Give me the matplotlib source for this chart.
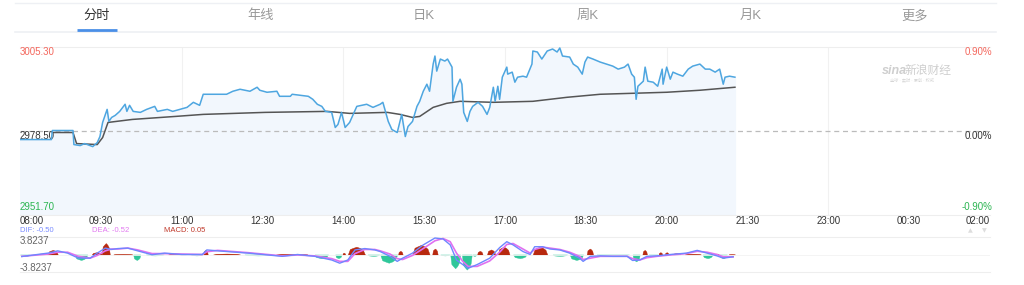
import matplotlib
matplotlib.use("Agg")
import matplotlib.pyplot as plt
import matplotlib.transforms as mtransforms

plt.rcParams['font.family'] = ['Liberation Sans', 'Noto Sans CJK SC', 'DejaVu Sans']

# ---- data ----
# tabs on top
tabs = ["分时", "年线", "日K", "周K", "月K", "更多"]

# time axis: minutes after 08:00
tick_labels = ["08:00", "09:30", "11:00", "12:30", "14:00", "15:30", "17:00",
               "18:30", "20:00", "21:30", "23:00", "00:30", "02:00"]
tick_minutes = [0, 90, 180, 270, 360, 450, 540, 630, 720, 810, 900, 990, 1080]

prev_close = 2978.50
y_top = 3005.30
y_bottom = 2951.70

# price line
price_t = [0, 35, 36, 59, 60, 67, 72, 81, 86, 89, 92, 97, 99, 102, 106, 111, 117, 119,
           122, 126, 134, 141, 150, 153, 164, 170, 186, 193, 200, 204, 230, 237, 245,
           256, 264, 267, 275, 286, 289, 301, 303, 321, 326, 331, 336, 340, 347, 351,
           354, 358, 362, 367, 371, 375, 386, 393, 401, 404, 410, 414, 420, 425, 429,
           432, 437, 442, 445, 449, 453, 456, 460, 462, 464, 468, 473, 476, 481, 482,
           486, 490, 492, 494, 498, 501, 504, 510, 515, 520, 523, 527, 529, 532, 534,
           537, 542, 543, 548, 551, 554, 560, 564, 570, 571, 576, 581, 587, 593, 598,
           601, 604, 612, 616, 621, 626, 629, 632, 638, 646, 653, 660, 666, 673, 677,
           681, 684, 686, 688, 694, 696, 699, 705, 710, 715, 716, 720, 724, 727, 732,
           738, 744, 749, 757, 763, 768, 774, 779, 783, 785, 790, 796]
price = [2975.77, 2975.77, 2978.66, 2978.66, 2974.17, 2973.85, 2974.49, 2973.52, 2974.81,
         2976.73, 2981.23, 2985.40, 2981.55, 2982.83, 2983.48, 2984.76, 2987.03, 2984.76,
         2986.69, 2984.76, 2984.44, 2985.40, 2986.36, 2984.76, 2985.40, 2984.76, 2986.04,
         2987.65, 2986.69, 2990.22, 2990.22, 2991.18, 2991.82, 2991.18, 2992.46, 2991.50,
         2990.86, 2991.18, 2989.57, 2989.57, 2990.22, 2989.57, 2988.61, 2987.03, 2986.36,
         2984.76, 2984.44, 2979.62, 2980.59, 2984.44, 2979.62, 2981.23, 2983.80, 2986.36,
         2987.03, 2986.04, 2987.03, 2987.65, 2981.55, 2978.98, 2978.02, 2983.80, 2976.73,
         2979.94, 2981.55, 2986.36, 2987.97, 2991.18, 2993.43, 2991.18, 2999.85, 3002.42,
         2997.60, 3001.45, 3000.81, 3001.45, 2998.88, 2987.97, 2992.46, 2995.03, 2993.43,
         2984.44, 2981.55, 2984.76, 2986.36, 2987.65, 2986.36, 2983.80, 2986.04, 2992.46,
         2987.97, 2992.78, 2988.61, 2995.67, 2998.88, 2996.64, 2997.28, 2994.07, 2995.67,
         2995.99, 2995.67, 2999.85, 3004.02, 3003.70, 3001.45, 3004.02, 3004.66, 3003.70,
         3004.98, 3002.42, 3002.09, 2999.85, 2998.88, 2996.64, 3000.49, 3002.09, 3001.45,
         3000.49, 2999.85, 2999.20, 2998.24, 2998.88, 2999.85, 2996.64, 2995.67, 2988.61,
         2992.78, 2994.39, 2998.88, 2994.39, 2994.07, 2992.78, 2998.24, 2993.43, 2998.88,
         2995.03, 2997.28, 2996.64, 2995.99, 2998.24, 2999.20, 2999.85, 2998.24, 2998.24,
         2997.28, 2998.24, 2993.43, 2995.67, 2995.99, 2995.67]

# average price line
avg_t = [36, 59, 63, 86, 92, 98, 125, 173, 204, 273, 342, 367, 409, 423, 437, 445, 460,
         475, 490, 527, 571, 609, 646, 682, 720, 757, 796]
avg_p = [2978.02, 2978.02, 2974.49, 2974.17, 2976.41, 2981.23, 2982.19, 2983.15, 2983.80,
         2984.44, 2984.76, 2984.12, 2984.44, 2983.80, 2982.83, 2983.15, 2986.04, 2987.33,
         2987.97, 2987.65, 2987.97, 2989.25, 2990.22, 2990.53, 2990.86, 2991.50, 2992.46]

# MACD
macd_lim = 3.8237
macd_t = [2, 31, 42, 53, 65, 78, 86, 95, 102, 109, 120, 131, 147, 161, 180, 203, 208, 220,
          254, 292, 309, 328, 347, 356, 365, 373, 384, 395, 401, 412, 420, 426, 437, 449,
          462, 471, 479, 486, 493, 499, 509, 523, 534, 542, 549, 560, 568, 573, 582, 590,
          601, 612, 623, 627, 635, 646, 660, 676, 682, 690, 698, 709, 724, 742, 754, 765,
          776, 783, 794]
dif = [-0.44, 0.3, 0.8, 0.3, -0.8, -0.8, 0.3, 1.4, 1.1, 1.3, 1.4, 0.8, -0.05, 0.3, 0.0, 0.0,
       1.0, 0.8, 0.3, -0.4, 0.0, -0.4, -1.2, -1.9, -1.2, 1.0, 1.3, 1.0, 0.65, -0.4, -1.5,
       -0.8, 0.3, 2.1, 3.6, 3.4, 2.1, -1.2, -2.2, -3.0, -2.2, -0.8, 1.5, 2.8, 2.1, 0.65, 0.0,
       1.7, 1.7, 1.2, 1.0, 0.3, -0.8, -1.5, -0.4, -0.3, -0.4, -0.4, -1.3, -1.2, -0.4, -0.3,
       0.0, 0.3, 0.9, 0.3, -0.3, -0.8, -0.5]
dea = [-0.4, 0.1, 0.5, 0.5, -0.4, -0.8, -0.2, 0.8, 1.2, 1.2, 1.4, 1.0, 0.2, 0.2, 0.1, 0.0,
       0.6, 0.9, 0.4, -0.3, -0.1, -0.3, -0.9, -1.5, -1.5, 0.2, 1.1, 1.1, 0.8, 0.1, -0.9,
       -1.1, -0.2, 1.3, 3.0, 3.5, 2.8, 0.3, -1.5, -2.6, -2.6, -1.4, 0.5, 2.2, 2.4, 1.2, 0.3,
       1.1, 1.6, 1.4, 1.1, 0.5, -0.4, -1.1, -0.8, -0.4, -0.4, -0.4, -0.9, -1.2, -0.7, -0.4,
       -0.1, 0.2, 0.7, 0.5, 0.0, -0.5, -0.52]
# histogram humps: start minute, end minute, peak value
hist_start = [0, 17, 31, 61, 80, 91, 104, 126, 140, 165, 190, 204, 215, 250, 285, 328, 351,
              359, 365, 387, 401, 421, 437, 459, 468, 479, 492, 504, 509, 520, 532, 549,
              571, 593, 612, 631, 642, 682, 693, 700, 711, 718, 727, 740, 760, 773, 779, 789]
hist_end = [10, 31, 42, 75, 91, 100, 125, 134, 160, 185, 203, 209, 245, 280, 320, 343, 358,
            362, 384, 400, 420, 426, 456, 465, 478, 490, 503, 508, 515, 529, 545, 564,
            587, 609, 627, 638, 678, 690, 698, 710, 715, 722, 735, 758, 771, 778, 787, 796]
hist_val = [-0.4, 0.2, 1.0, -1.2, 0.5, 2.5, 0.1, -1.2, -0.2, 0.2, -0.2, 1.0, 0.2, -0.2, 0.15,
            -0.8, -0.8, 0.4, 1.7, -0.3, -1.8, 0.8, 2.1, 1.3, -0.2, -3.0, -3.3, -0.3, 0.8, 1.1,
            1.7, -0.8, 1.7, -0.3, -1.2, 1.3, -0.2, -1.5, 1.0, -0.2, 0.5, 0.5, 0.3, 0.15, -0.8,
            0.2, -0.8, 0.05]

# ---- figure ----
W, H = 1024, 285
fig = plt.figure(figsize=(W / 100, H / 100), dpi=100)


def fx(x):
    return x / W


def fy(y):
    return 1 - y / H


# tab bar
fig.add_artist(plt.Line2D([fx(15), fx(996)], [fy(2.5), fy(2.5)], color='#eef0f4', lw=1))
fig.add_artist(plt.Line2D([fx(15), fx(996)], [fy(31.5), fy(31.5)], color='#eef0f4', lw=1.2))
tab_x = [97, 261, 424, 588, 751, 915]
for i, name in enumerate(tabs):
    fig.text(fx(tab_x[i]), fy(16), name, ha='center', va='center', fontsize=9.5,
             color='#333333' if i == 0 else '#999999')
fig.add_artist(plt.Line2D([fx(77), fx(117)], [fy(29.5), fy(29.5)], color='#4a8fe7', lw=2,
                          solid_capstyle='butt'))

# main panel
ax = fig.add_axes([fx(20), fy(215), fx(990) - fx(20), fy(47) - fy(215)])
ax.set_xlim(0, 1080)
ax.set_ylim(y_bottom, y_top)
ax.axis('off')
for m in [180, 360, 540, 720, 900]:
    ax.axvline(m, color='#f1f1f1', lw=0.8, zorder=0)
ax.axhline(y_top, color='#eeeeee', lw=0.8, clip_on=False)
ax.axhline(y_bottom, color='#eeeeee', lw=0.8, clip_on=False)
ax.fill_between(price_t, price, y_bottom, color='#f2f7fd', zorder=1)
ax.axhline(prev_close, color='#bbbbbb', lw=0.9, ls=(0, (4, 3)), zorder=2)
ax.plot(avg_t, avg_p, color='#555555', lw=1.1, zorder=3)
ax.plot(price_t, price, color='#4ea6e0', lw=1.1, zorder=4)

ax.text(0, 1, "3005.30", transform=ax.transAxes, ha='left', va='top', fontsize=7,
        color='#f4675d')
ax.text(0, 0.015, "2951.70", transform=ax.transAxes, ha='left', va='bottom', fontsize=7,
        color='#2cb552')
ax.text(0, prev_close, "2978.50", ha='left', va='top', fontsize=7, color='#333333')
ax.text(1.002, 1, "0.90%", transform=ax.transAxes, ha='right', va='top', fontsize=7,
        color='#f4675d')
ax.text(1.002, 0.015, "-0.90%", transform=ax.transAxes, ha='right', va='bottom', fontsize=7,
        color='#2cb552')
trans_r = mtransforms.blended_transform_factory(ax.transAxes, ax.transData)
ax.text(1.002, prev_close, "0.00%", transform=trans_r, ha='right', va='top', fontsize=7,
        color='#333333')

# watermark
fig.text(fx(882), fy(71), "sina", fontsize=9, style='italic', weight='bold', color='#cfcfcf',
         ha='left', va='center')
fig.text(fx(905), fy(71), "新浪财经", fontsize=8.5, style='italic', color='#cfcfcf',
         ha='left', va='center')
fig.text(fx(890), fy(80), "全球 · 实时 · 原创 · 权威", fontsize=3, color='#d5d5d5',
         ha='left', va='center')

# time labels
trans_t = mtransforms.blended_transform_factory(ax.transData, fig.transFigure)
for i, (m, lab) in enumerate(zip(tick_minutes, tick_labels)):
    ha = 'left' if i == 0 else ('right' if i == len(tick_labels) - 1 else 'center')
    ax.text(m, fy(221.5), lab, transform=trans_t, ha=ha, va='center', fontsize=7,
            color='#333333', clip_on=False)

# MACD legend
fig.text(fx(20), fy(230.5), "DIF: -0.50", fontsize=5.5, color='#7a8cff', va='center')
fig.text(fx(92), fy(230.5), "DEA: -0.52", fontsize=5.5, color='#e27af0', va='center')
fig.text(fx(164), fy(230.5), "MACD: 0.05", fontsize=5.5, color='#c0392b', va='center')
fig.text(fx(970), fy(231), "▲", fontsize=4.5, color='#dddddd', ha='center', va='center',
         family='DejaVu Sans')
fig.text(fx(984), fy(231), "▼", fontsize=4.5, color='#dddddd', ha='center', va='center',
         family='DejaVu Sans')

# MACD panel
mx = fig.add_axes([fx(20), fy(272), fx(990) - fx(20), fy(237) - fy(272)])
mx.set_xlim(0, 1080)
mx.set_ylim(-macd_lim, macd_lim)
mx.axis('off')
mx.axhline(macd_lim, color='#eeeeee', lw=0.8, clip_on=False)
mx.axhline(-macd_lim, color='#eeeeee', lw=0.8, clip_on=False)
mx.axhline(0, color='#f3f3f3', lw=0.6)
for s, e, v in zip(hist_start, hist_end, hist_val):
    w = e - s
    xs = [s, s + 0.12 * w, s + 0.3 * w, s + 0.5 * w, s + 0.7 * w, s + 0.88 * w, e]
    ys = [0, 0.7 * v, 0.85 * v, v, 0.85 * v, 0.6 * v, 0]
    mx.fill_between(xs, ys, 0, color='#b8290f' if v > 0 else '#2fc79a', lw=0.3,
                    edgecolor='#b8290f' if v > 0 else '#2fc79a')
mx.plot(macd_t, dea, color='#e070f0', lw=1.2)
mx.plot(macd_t, dif, color='#6f86ff', lw=1.0)
mx.text(0, 0.88, "3.8237", transform=mx.transAxes, ha='left', va='center', fontsize=7,
        color='#666666')
mx.text(0, 0.12, "-3.8237", transform=mx.transAxes, ha='left', va='center', fontsize=7,
        color='#666666')

fig.savefig("out.png", dpi=100, facecolor='white')
